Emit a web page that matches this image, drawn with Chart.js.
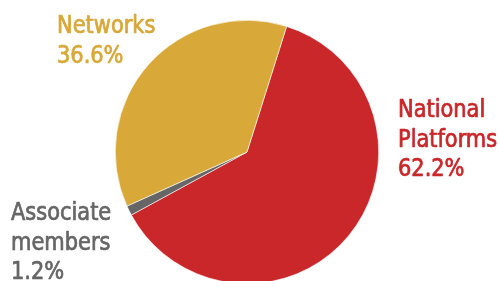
<!DOCTYPE html>
<html>
<head>
	<title>Membership pie</title>
	<style>
		html, body { margin: 0; padding: 0; background: #fff; overflow: hidden; }
		#wrap { width: 500px; height: 304px; }
	</style>
</head>
<body>
	<div id="wrap"><canvas id="myChart" width="500" height="304"></canvas></div>
	<script src="https://cdn.jsdelivr.net/npm/chart.js@4.4.0/dist/chart.umd.min.js"></script>
	<script type="text/javascript">
	// data
	var categories = ['National Platforms', 'Associate members', 'Networks'];
	var shares = [62.2, 1.2, 36.6];
	var colours = ['#C9272A', '#666666', '#D8A838'];

	// where each label's lines go (left x, first baseline y)
	var labelSpots = [
		{ x: 398, y: 117, lines: ['National', 'Platforms'] },
		{ x: 11, y: 220, lines: ['Associate', 'members'] },
		{ x: 57, y: 33, lines: ['Networks'] }
	];

	var pieLabels = {
		id: 'pieLabels',
		afterDraw: function(chart) {
			var c = chart.ctx;
			c.save();
			c.font = '24px "DejaVu Sans Condensed", "DejaVu Sans", sans-serif';
			c.textAlign = 'left';
			c.textBaseline = 'alphabetic';
			c.lineWidth = 0.7;
			c.lineJoin = 'round';
			for (var i = 0; i < categories.length; i++) {
				var s = labelSpots[i];
				var lines = s.lines.concat([shares[i].toFixed(1) + '%']);
				c.fillStyle = colours[i];
				c.strokeStyle = colours[i];
				for (var j = 0; j < lines.length; j++) {
					c.save();
					c.translate(s.x, s.y + j * 29.5);
					c.scale(0.97, 1);
					c.fillText(lines[j], 0, 0);
					c.strokeText(lines[j], 0, 0);
					c.restore();
				}
			}
			c.restore();
		}
	};

	var ctx = document.getElementById('myChart').getContext('2d');
	var chart = new Chart(ctx, {
		type: 'pie',
		data: {
			labels: categories,
			datasets: [{
				data: shares,
				backgroundColor: colours,
				borderColor: '#ffffff',
				borderWidth: 0.6
			}]
		},
		options: {
			responsive: false,
			animation: false,
			rotation: 17.5,
			layout: { padding: { top: 20, bottom: 20, left: 0, right: 6 } },
			plugins: {
				legend: { display: false },
				tooltip: { enabled: false }
			}
		},
		plugins: [pieLabels]
	});
	</script>
</body>
</html>
